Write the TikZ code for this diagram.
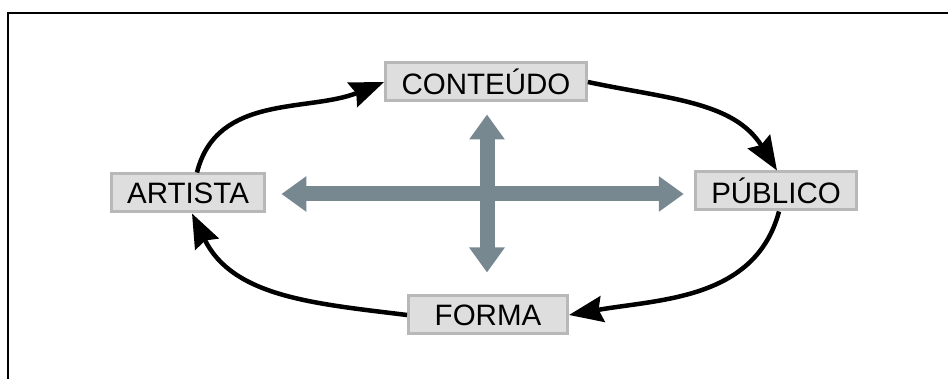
\documentclass[tikz,border=0pt]{standalone}
\usepackage{fontspec}
\setmainfont{Liberation Sans}
\usetikzlibrary{arrows.meta}

\definecolor{boxfill}{RGB}{222,222,222}
\definecolor{boxline}{RGB}{184,184,184}
\definecolor{crossgray}{RGB}{120,136,145}

\begin{document}
\begin{tikzpicture}[
  box/.style={draw=boxline, line width=3pt, fill=boxfill, inner xsep=16pt,
    minimum height=38pt, font=\fontsize{29.5}{31}\selectfont},
  cycle/.style={line width=4.5pt, -{Stealth[length=34pt,width=26pt,inset=4pt]}},
  cross/.style={crossgray, line width=15pt, {Triangle[length=25pt,width=34pt]}-{Triangle[length=25pt,width=34pt]}}
]

  \useasboundingbox (0pt,0pt) rectangle (948pt,-379pt);

  %% frame
  \draw[line width=2pt] (8pt,-379pt) -- (8pt,-13pt) -- (948pt,-13pt);

  %% boxes
  \node[box] (conteudo) at (486pt, -82pt) {CONTEÚDO};
  \node[box] (artista)  at (188pt,-193pt) {ARTISTA};
  \node[box] (publico)  at (776pt,-191pt) {PÚBLICO};
  \node[box, minimum width=159pt] (forma) at (488pt,-315pt) {FORMA};

  %% cross
  \draw[cross] ([xshift=15pt]artista.east |- 0,-194pt) -- ([xshift=-10pt]publico.west |- 0,-194pt);
  \draw[cross] ([yshift=-12pt]conteudo.south -| 487pt,0) -- ([yshift=22pt]forma.north -| 487pt,0);

  %% cycle
  \draw[cycle] ([xshift=9pt]artista.north) to[out=76,in=202] (conteudo.west);
  \draw[cycle] (conteudo.east) to[out=-12,in=122] ([xshift=1pt]publico.north);
  \draw[cycle] ([xshift=3pt]publico.south) to[out=-105,in=10] (forma.east);
  \draw[cycle] (forma.west) to[out=173,in=-64] ([xshift=4pt]artista.south);

\end{tikzpicture}
\end{document}
